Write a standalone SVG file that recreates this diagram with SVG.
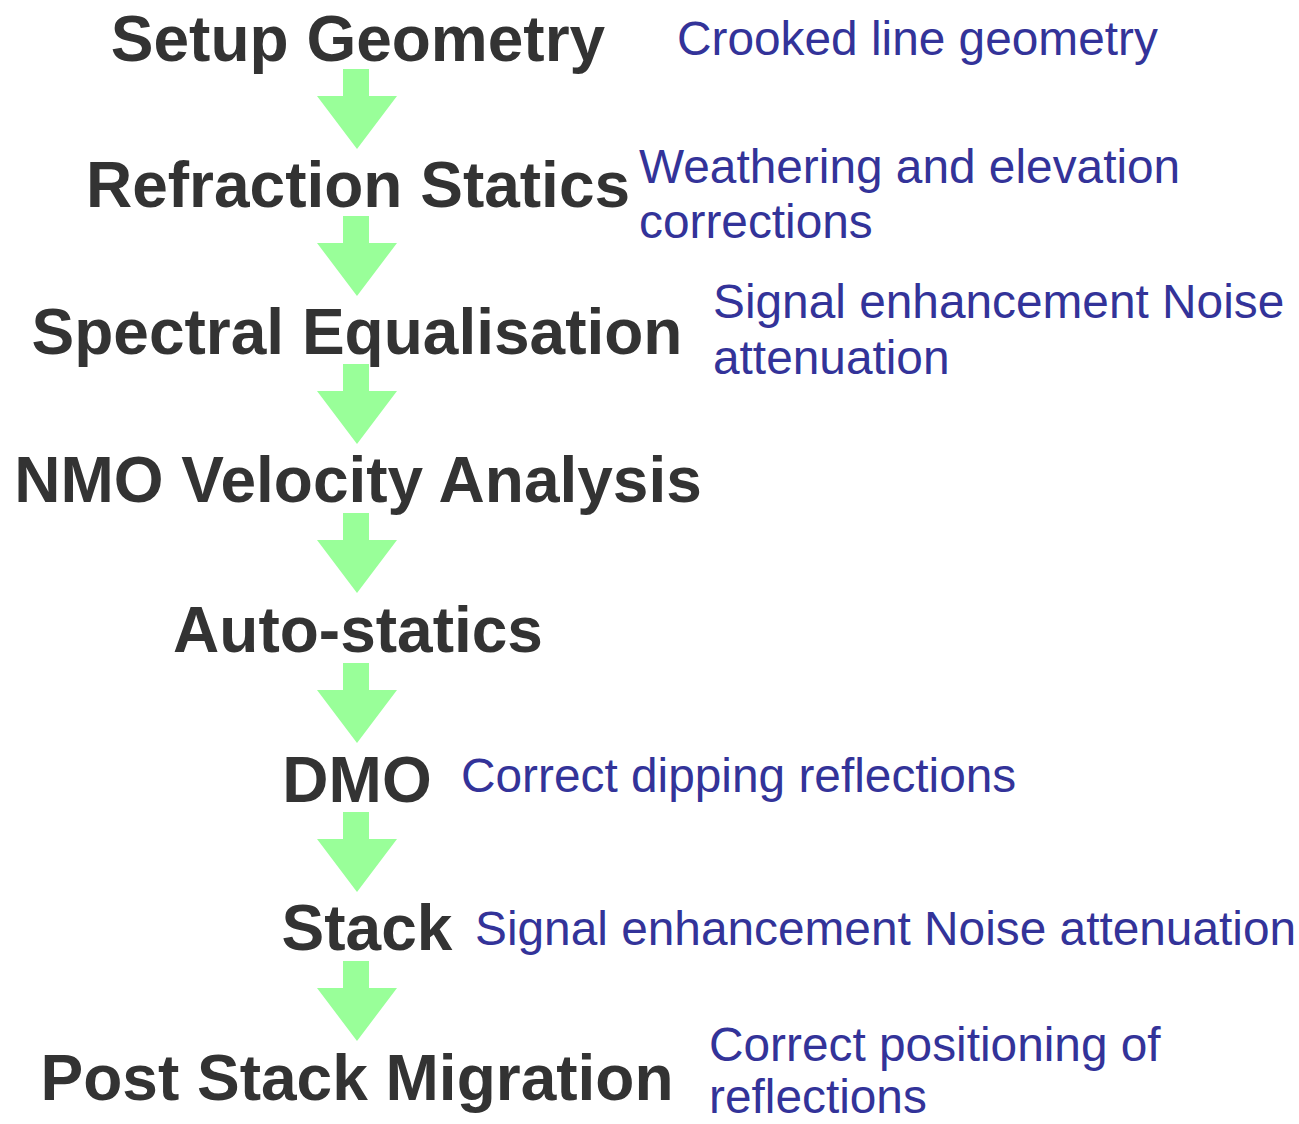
<svg xmlns="http://www.w3.org/2000/svg" width="1299" height="1124" viewBox="0 0 1299 1124">
  <style>
    .step { font-family: "Liberation Sans", Arial, sans-serif; font-weight: bold; font-size: 64px; fill: #333333; text-anchor: middle; }
    .note { font-family: "Liberation Sans", Arial, sans-serif; font-size: 47.8px; fill: #333399; }
    .arrow { fill: #99ff99; }
  </style>
  <defs>
    <!-- block arrow, top of shaft at y=0 -->
    <path id="down" d="M343,0 L369,0 L369,27 L397,27 L357,80 L317,27 L343,27 Z"/>
  </defs>
  <rect width="1299" height="1124" fill="#ffffff"/>

  <g id="connectors">
    <use href="#down" class="arrow" y="69"/>
    <use href="#down" class="arrow" y="216"/>
    <use href="#down" class="arrow" y="364"/>
    <use href="#down" class="arrow" y="513"/>
    <use href="#down" class="arrow" y="663"/>
    <use href="#down" class="arrow" y="812"/>
    <use href="#down" class="arrow" y="961"/>
  </g>

  <g id="setup-geometry">
    <text class="step" x="358" y="61">Setup Geometry</text>
    <text class="note" x="677" y="55">Crooked line geometry</text>
  </g>
  <g id="refraction-statics">
    <text class="step" x="358" y="207">Refraction Statics</text>
    <text class="note" x="639" y="183">Weathering and elevation</text>
    <text class="note" x="639" y="238">corrections</text>
  </g>
  <g id="spectral-equalisation">
    <text class="step" x="357" y="354">Spectral Equalisation</text>
    <text class="note" x="713" y="318">Signal enhancement Noise</text>
    <text class="note" x="713" y="374">attenuation</text>
  </g>
  <g id="nmo-velocity-analysis">
    <text class="step" x="358" y="502">NMO Velocity Analysis</text>
  </g>
  <g id="auto-statics">
    <text class="step" x="358" y="652">Auto-statics</text>
  </g>
  <g id="dmo">
    <text class="step" x="357" y="802">DMO</text>
    <text class="note" x="461" y="792">Correct dipping reflections</text>
  </g>
  <g id="stack">
    <text class="step" x="367" y="950">Stack</text>
    <text class="note" x="475" y="945">Signal enhancement Noise attenuation</text>
  </g>
  <g id="post-stack-migration">
    <text class="step" x="357" y="1100">Post Stack Migration</text>
    <text class="note" x="709" y="1061">Correct positioning of</text>
    <text class="note" x="709" y="1113">reflections</text>
  </g>
</svg>
